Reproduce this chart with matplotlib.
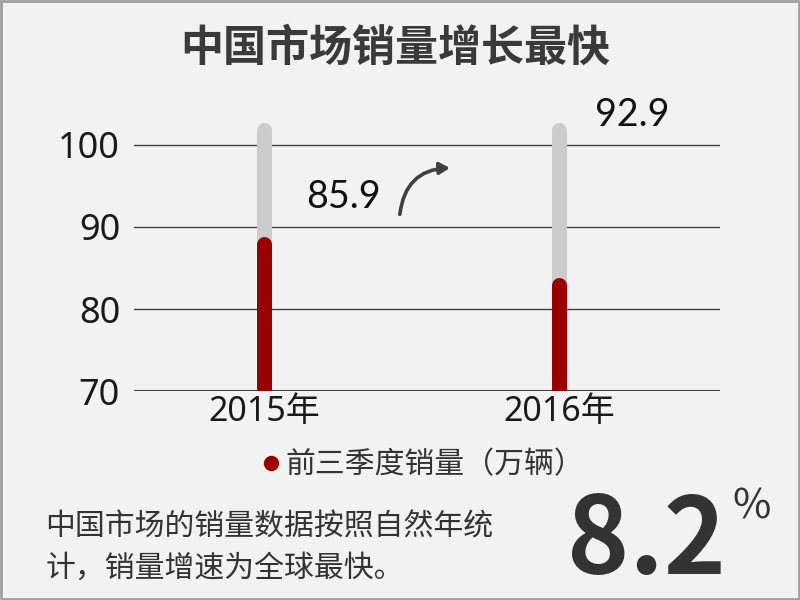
import matplotlib
matplotlib.use("Agg")
import matplotlib.pyplot as plt
from matplotlib.lines import Line2D
from matplotlib.patches import Rectangle

# ---- data ----
categories = ["2015年", "2016年"]
sales = [88.8, 83.8]          # red bar heights as drawn
track_top = [102.7, 102.7]    # grey background track top
labels = ["85.9", "92.9"]
yticks = [70, 80, 90, 100]
series_name = "前三季度销量（万辆）"
title = "中国市场销量增长最快"
note = "中国市场的销量数据按照自然年统\n计，销量增速为全球最快。"
growth = "8.2"

BG = "#f2f2f2"
RED = "#990000"
GREY = "#cccccc"
DARK = "#333333"
CJK = ["Noto Sans CJK SC", "DejaVu Sans"]
NUM = ["Noto Sans", "Noto Sans CJK SC", "DejaVu Sans"]
LAB = ["Lato", "Noto Sans CJK SC", "DejaVu Sans"]

plt.rcParams["font.family"] = CJK

fig = plt.figure(figsize=(8, 6), dpi=100, facecolor=BG)
ax = fig.add_axes([0.1675, 0.348, 0.7325, 0.479])
ax.set_facecolor(BG)
ax.set_xlim(-0.44, 1.546)
ax.set_ylim(70, 105)

xs = list(range(len(categories)))
bar_lw = 10.8  # points
cap = 0.9      # round cap radius in data units

ax.set_yticks(yticks)
for y in yticks:
    ax.axhline(y, color="#404040", lw=2.2 if y == yticks[0] else 1.0, zorder=1)

ax.vlines(xs, 69, [t - cap for t in track_top], colors=GREY, lw=bar_lw,
          capstyle="round", zorder=2)
ax.vlines(xs, 69, [s - cap for s in sales], colors=RED, lw=bar_lw,
          capstyle="round", zorder=3)

for s in ax.spines.values():
    s.set_visible(False)
ax.tick_params(length=0)
ax.set_yticklabels([str(y) for y in yticks], family=NUM, fontweight="light",
                   fontsize=26, color="#1a1a1a")
ax.tick_params(axis="y", pad=10)
ax.set_xticks(xs)
ax.set_xticklabels(categories, family=NUM, fontweight="light",
                   fontsize=24.5, color="#1a1a1a")
ax.tick_params(axis="x", pad=3)

# value labels
label_offsets = [(0.27, 93.7), (1.247, 103.6)]
for (lx, ly), t in zip(label_offsets, labels):
    ax.text(lx, ly, t, family=LAB, fontsize=27, color="#111111",
            ha="center", va="center", clip_on=False)

# curved arrow
ax.annotate("", xy=(0.64, 97.2), xytext=(0.46, 91.2),
            arrowprops=dict(arrowstyle="-|>,head_length=0.6,head_width=0.35",
                            connectionstyle="arc3,rad=-0.45",
                            color="#404040", lw=2.6),
            annotation_clip=False)

# legend
handle = Line2D([], [], marker="o", color=RED, linestyle="none", markersize=10)
leg = ax.legend([handle], [series_name], loc="center",
                bbox_to_anchor=(0.525, 0.225), bbox_transform=fig.transFigure,
                frameon=False, handletextpad=0.0, handlelength=1.0,
                prop={"family": CJK, "size": 21.5, "weight": "light"})
for t in leg.get_texts():
    t.set_color("#333333")

# title
fig.text(0.494, 0.921, title, ha="center", va="center", fontsize=31,
         fontweight="bold", color="#3a3a3a")

# note
fig.text(0.057, 0.087, note, ha="left", va="center", fontsize=21.5,
         fontweight="light", color=DARK, linespacing=1.4)

# big number
fig.text(0.908, 0.095, growth, ha="right", va="center", fontsize=76,
         fontweight="bold", color=DARK, family=CJK)
fig.text(0.94, 0.155, "%", ha="center", va="center", fontsize=30,
         fontweight="normal", color=DARK, family=CJK)

# border
fig.patches.append(Rectangle((0.001, 0.001), 0.998, 0.998, transform=fig.transFigure,
                             fill=False, edgecolor="#a0a0a0", lw=2))

fig.savefig("out.png", dpi=100, facecolor=BG)
